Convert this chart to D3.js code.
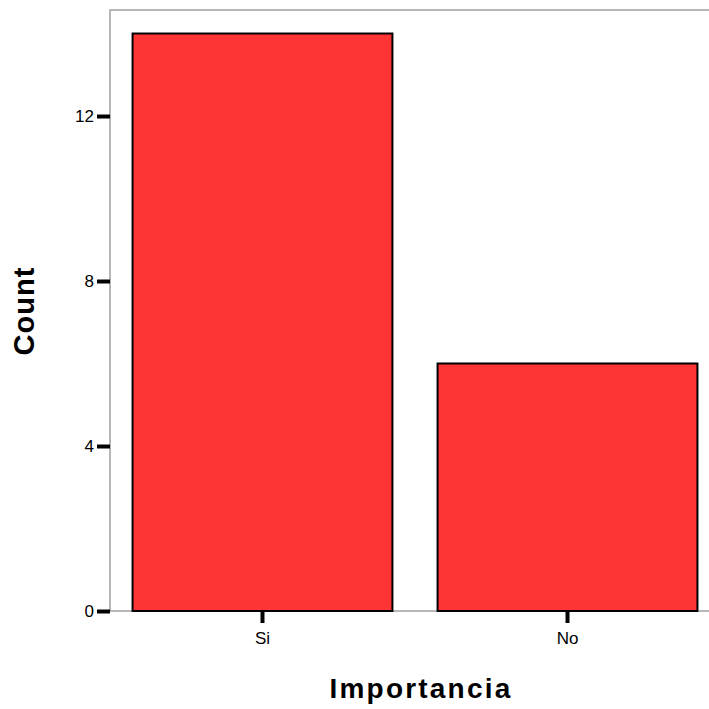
<!DOCTYPE html>
<html><head><meta charset="utf-8">
<script src="https://cdn.jsdelivr.net/npm/d3@7"></script>
<style>body{margin:0;background:#fff}svg{display:block}</style>
</head><body>
<script>
const categories = ["Si", "No"];
const counts = [14, 6];
const yTicks = [0, 4, 8, 12];

(function () {
const W = 709, H = 709;
const pL = 110, pR = 720, pT = 10, pB = 611;
const FONT = "Arial, 'Liberation Sans', sans-serif";
const svg = d3.select("body").append("svg").attr("width", W).attr("height", H)
  .style("font-family", FONT);

const x = d3.scaleBand().domain(categories).range([pL, pR]).paddingInner(0.148).paddingOuter(0.074);
const y = d3.scaleLinear().domain([0, 14.57]).range([pB, pT]);

// frame
svg.append("rect").attr("x", pL).attr("y", pT).attr("width", pR - pL).attr("height", pB - pT)
  .attr("fill", "none").attr("stroke", "#a0a0a0").attr("stroke-width", 1.5);

// bars
svg.selectAll("rect.bar").data(categories).enter().append("rect").attr("class", "bar")
  .attr("x", d => x(d)).attr("width", x.bandwidth())
  .attr("y", (d, i) => y(counts[i])).attr("height", (d, i) => y(0) - y(counts[i]))
  .attr("fill", "#ff3434").attr("stroke", "#000").attr("stroke-width", 2);

// y axis
const ya = svg.append("g").attr("transform", `translate(${pL},0)`)
  .call(d3.axisLeft(y).tickValues(yTicks).tickSize(13).tickPadding(3).tickFormat(d3.format("d")));
ya.attr("font-size", null).attr("font-family", null);
ya.select(".domain").remove();
ya.selectAll(".tick line").attr("stroke", "#000").attr("stroke-width", 4);
ya.selectAll(".tick text").style("font-size", "17px").attr("fill", "#000").style("font-family", FONT);

// x axis
const xa = svg.append("g").attr("transform", `translate(0,${pB})`)
  .call(d3.axisBottom(x).tickSize(12).tickPadding(9));
xa.attr("font-size", null).attr("font-family", null);
xa.select(".domain").remove();
xa.selectAll(".tick line").attr("stroke", "#000").attr("stroke-width", 4);
xa.selectAll(".tick text").style("font-size", "17px").attr("fill", "#000").style("font-family", FONT);

// titles
svg.append("text").attr("x", 421).attr("y", 698).attr("text-anchor", "middle")
  .style("font-size", "28px").attr("font-weight", "bold").attr("letter-spacing", 2.2).text("Importancia");
svg.append("text").attr("transform", `translate(34,311) rotate(-90)`).attr("text-anchor", "middle")
  .style("font-size", "29px").attr("font-weight", "bold").attr("letter-spacing", 1).text("Count");
})();
</script>
</body></html>
